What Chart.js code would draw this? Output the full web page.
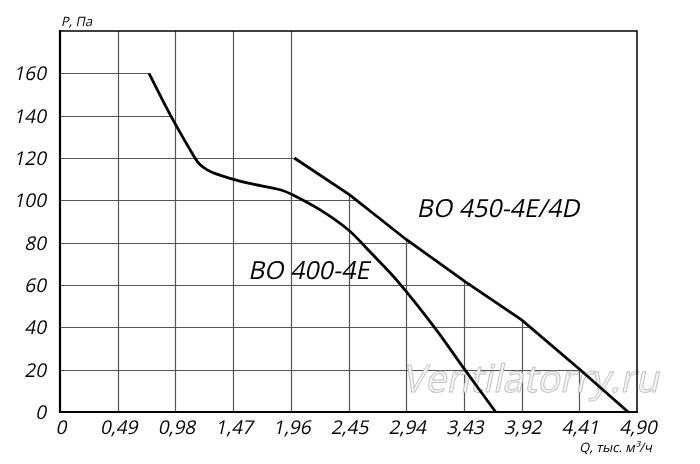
<!DOCTYPE html>
<html>
<head>
<meta charset="utf-8">
<script src="https://cdn.jsdelivr.net/npm/chart.js@4.4.1/dist/chart.umd.min.js"></script>
<style>
  html, body { margin: 0; padding: 0; background: #fff; }
  #wrap { width: 700px; height: 464px; }
</style>
</head>
<body>
<div id="wrap"><canvas id="grafica" width="700" height="464"></canvas></div>
<script>
"use strict";
/* Datos de la gráfica */
const xTicks = [0, 0.49, 0.98, 1.47, 1.96, 2.45, 2.94, 3.43, 3.92, 4.41, 4.90];
const xTickLabels = ["0", "0,49", "0,98", "1,47", "1,96", "2,45", "2,94", "3,43", "3,92", "4,41", "4,90"];
const yTicks = [0, 20, 40, 60, 80, 100, 120, 140, 160];
const yTickLabels = ["0", "20", "40", "60", "80", "100", "120", "140", "160"];

const bo400Q = [0.756, 0.94, 1.146, 1.19, 1.25, 1.32, 1.45, 1.61, 1.87, 1.97, 2.21, 2.45, 2.63, 2.87, 3.18, 3.43, 3.70];
const bo400P = [160, 140, 120, 116.8, 114.4, 112.6, 110.3, 108, 105, 102.8, 95.5, 86, 75.8, 61.6, 40, 20.6, 0];

const bo450Q = [1.99, 2.46, 2.94, 3.44, 3.92, 4.41, 4.825];
const bo450P = [120, 102.6, 81.5, 61.6, 43.5, 20.3, 0];

const seriesNames = ["BO 400-4E", "BO 450-4E/4D"];
const xTitle = "Q, тыс. м³/ч";
const yTitle = "P, Па";
const watermark = "Ventilatorry.ru";

/* Ubicación de etiquetas (en unidades de datos) */
const etiquetas = [
    { text: seriesNames[0], q: 1.596, p: 62.9 },
    { text: seriesNames[1], q: 3.028, p: 92.2 }
];

const toPoints = (qs, ps) => qs.map((q, i) => ({ x: q, y: ps[i] }));

/* Valor de la curva en q (interpolación lineal) */
function valorEn(qs, ps, q) {
    if (q < qs[0] || q > qs[qs.length - 1]) return null;
    for (let i = 0; i < qs.length - 1; i++) {
        if (q >= qs[i] && q <= qs[i + 1]) {
            const t = (q - qs[i]) / (qs[i + 1] - qs[i]);
            return ps[i] + t * (ps[i + 1] - ps[i]);
        }
    }
    return null;
}

/* Máximo q donde la curva alcanza p */
function cruceEn(qs, ps, p) {
    let best = null;
    for (let i = 0; i < qs.length - 1; i++) {
        const a = ps[i], b = ps[i + 1];
        if (p <= a && p >= b) {
            const t = a === b ? 1 : (a - p) / (a - b);
            const q = qs[i] + t * (qs[i + 1] - qs[i]);
            if (best === null || q > best) best = q;
        }
    }
    return best;
}

const FONT = "'Open Sans', 'DejaVu Sans', sans-serif";

/* Texto inclinado (cursiva sintética) */
function cursiva(ctx, texto, x, y, size, align, stroke) {
    ctx.save();
    ctx.font = size + "px " + FONT;
    ctx.textAlign = align;
    ctx.textBaseline = "alphabetic";
    ctx.translate(x, y);
    ctx.transform(1, 0, -0.21, 1, 0, 0);
    ctx.fillText(texto, 0, 0);
    if (stroke) ctx.strokeText(texto, 0, 0);
    ctx.restore();
}

const fondoPlugin = {
    id: "fondo",
    beforeDatasetsDraw(chart) {
        const { ctx, chartArea: a, scales: { x, y } } = chart;
        ctx.save();
        // cuadrícula recortada bajo las curvas
        ctx.strokeStyle = "#555";
        ctx.lineWidth = 1.2;
        ctx.beginPath();
        yTicks.slice(1).forEach(p => {
            const e1 = cruceEn(bo400Q, bo400P, p);
            const e2 = cruceEn(bo450Q, bo450P, p);
            const fin = Math.max(e1 || 0, e2 || 0);
            const py = Math.round(y.getPixelForValue(p)) + 0.5;
            ctx.moveTo(a.left, py);
            ctx.lineTo(x.getPixelForValue(fin), py);
        });
        xTicks.slice(1, -1).forEach(q => {
            const tope = q <= bo450Q[0] ? y.max : valorEn(bo450Q, bo450P, q);
            const px = Math.round(x.getPixelForValue(q)) + 0.5;
            ctx.moveTo(px, a.bottom);
            ctx.lineTo(px, y.getPixelForValue(tope));
        });
        ctx.stroke();

        // marca de agua
        ctx.fillStyle = "#f8f8f8";
        ctx.strokeStyle = "#c2c2c2";
        ctx.lineWidth = 1;
        cursiva(ctx, watermark, 402, 392, 38, "left", true);

        // marco
        ctx.strokeStyle = "#000";
        ctx.lineWidth = 1.5;
        ctx.beginPath();
        ctx.moveTo(a.left, a.top);
        ctx.lineTo(a.right, a.top);
        ctx.lineTo(a.right, a.bottom);
        ctx.stroke();
        ctx.lineWidth = 2.2;
        ctx.beginPath();
        ctx.moveTo(a.left, a.top - 1);
        ctx.lineTo(a.left, a.bottom);
        ctx.lineTo(a.right + 1, a.bottom);
        ctx.stroke();
        ctx.restore();
    },
    afterDraw(chart) {
        const { ctx, chartArea: a, scales: { x, y } } = chart;
        ctx.save();
        ctx.fillStyle = "#000";
        // etiquetas de ejes
        xTicks.forEach((q, i) => {
            cursiva(ctx, xTickLabels[i], x.getPixelForValue(q) + 1, a.bottom + 22, 19, "center");
        });
        yTicks.forEach((p, i) => {
            cursiva(ctx, yTickLabels[i], 46, y.getPixelForValue(p) + 7, 19, "right");
        });
        // nombres de las curvas
        etiquetas.forEach(et => {
            cursiva(ctx, et.text, x.getPixelForValue(et.q), y.getPixelForValue(et.p), 25, "left");
        });
        cursiva(ctx, yTitle, a.left + 1, 26, 13, "left");
        cursiva(ctx, xTitle, 652, 452, 13, "right");
        ctx.restore();
    }
};

new Chart(document.getElementById("grafica"), {
    type: "line",
    data: {
        datasets: [
            {
                label: seriesNames[0],
                data: toPoints(bo400Q, bo400P),
                borderColor: "#000",
                borderWidth: 2.8,
                pointRadius: 0,
                tension: 0.35,
                fill: false
            },
            {
                label: seriesNames[1],
                data: toPoints(bo450Q, bo450P),
                borderColor: "#000",
                borderWidth: 2.8,
                pointRadius: 0,
                tension: 0,
                fill: false
            }
        ]
    },
    options: {
        responsive: false,
        animation: false,
        events: [],
        layout: { padding: { top: 31, right: 63, left: 0, bottom: 0 } },
        plugins: { legend: { display: false }, tooltip: { enabled: false } },
        scales: {
            x: {
                type: "linear",
                min: 0,
                max: 4.90,
                grid: { display: false, drawTicks: false },
                border: { display: false },
                afterBuildTicks: s => { s.ticks = xTicks.map(v => ({ value: v })); },
                afterFit: s => { s.height = 52; },
                ticks: { display: false }
            },
            y: {
                type: "linear",
                min: 0,
                max: 180,
                grid: { display: false, drawTicks: false },
                border: { display: false },
                afterBuildTicks: s => { s.ticks = yTicks.map(v => ({ value: v })); },
                afterFit: s => { s.width = 60; },
                ticks: { display: false }
            }
        }
    },
    plugins: [fondoPlugin]
});
</script>
</body>
</html>
